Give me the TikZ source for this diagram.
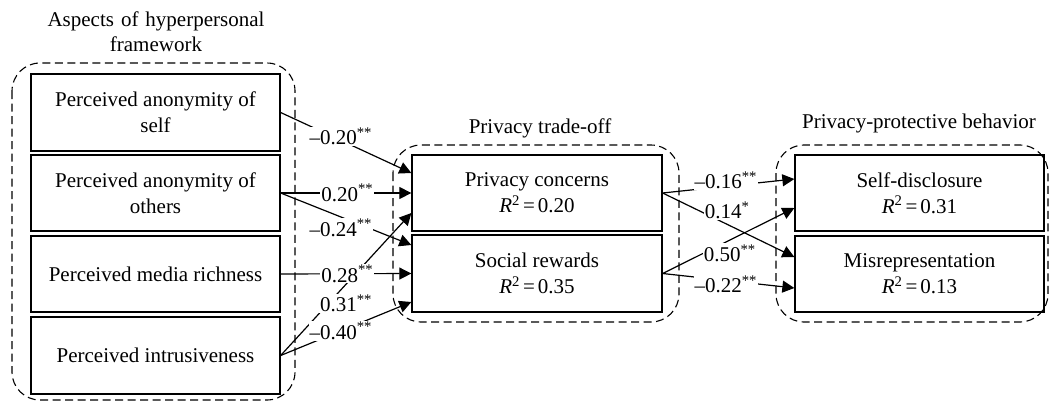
\documentclass[tikz,border=0pt]{standalone}
\usepackage{fontspec}
\setmainfont{Liberation Serif}
\usetikzlibrary{arrows.meta}
\begin{document}
\begin{tikzpicture}[x=1pt,y=-1pt,
 box/.style={draw, line width=1.3pt, minimum width=249pt, minimum height=76pt, inner sep=2pt, align=center, font=\fontsize{21}{26}\selectfont},
 grp/.style={draw, line width=1.1pt, dash pattern=on 8pt off 4.5pt, rounded corners=28pt},
 arr/.style={line width=1.2pt, -{Triangle[length=12pt,width=12pt]}},
 lab/.style={fill=white, inner sep=1pt, font=\fontsize{21}{24}\selectfont},
 ttl/.style={align=center, font=\fontsize{21}{25}\selectfont}]
\useasboundingbox (0,0) rectangle (1050,402);
% groups
\draw[grp] (12,63) rectangle (295,400);
\draw[grp] (393,145) rectangle (679,322);
\draw[grp] (776,145) rectangle (1048,322);
% titles
\node[ttl, text width=280pt] (t1) at (156,32) {Aspects of hyperpersonal\\framework};
\node[ttl] (t2) at (540,128) {Privacy trade-off};
\node[ttl] (t3) at (919,123) {Privacy-protective behavior};
% boxes
\node[box, minimum height=77pt] (b1) at (155.5,112.5) {Perceived anonymity of\\self};
\node[box] (b2) at (155.5,193) {Perceived anonymity of\\others};
\node[box] (b3) at (155.5,274) {Perceived media richness};
\node[box, minimum height=77pt] (b4) at (155.5,355.5) {Perceived intrusiveness};
\node[box, minimum width=250pt] (pc) at (537,193) {Privacy concerns\\\textit{R}\textsuperscript{2}\hspace{3pt}=\hspace{3pt}0.20};
\node[box, minimum width=250pt, minimum height=77pt] (sr) at (537,273.5) {Social rewards\\\textit{R}\textsuperscript{2}\hspace{3pt}=\hspace{3pt}0.35};
\node[box] (sd) at (919.5,193) {Self-disclosure\\\textit{R}\textsuperscript{2}\hspace{3pt}=\hspace{3pt}0.31};
\node[box] (mis) at (919.5,274) {Misrepresentation\\\textit{R}\textsuperscript{2}\hspace{3pt}=\hspace{3pt}0.13};
% arrows left
\draw[arr] (b1.east) -- ([yshift=20pt]pc.west) node[lab, pos=0.46, yshift=4pt] {–0.20\textsuperscript{**}};
\draw[arr] (b2.east) -- (pc.west) node[lab, pos=0.51] {0.20\textsuperscript{**}};
\draw[arr] (b2.east) -- ([yshift=28.5pt]sr.west) node[lab, pos=0.46, yshift=-11pt] {–0.24\textsuperscript{**}};
\draw[arr] (b4.east) -- ([yshift=-20pt]pc.west) node[lab, pos=0.5, yshift=-19pt] {0.31\textsuperscript{**}};
\draw[arr] (b3.east) -- (sr.west) node[lab, pos=0.51] {0.28\textsuperscript{**}};
\draw[arr] (b4.east) -- ([yshift=-28.5pt]sr.west) node[lab, pos=0.46] {–0.40\textsuperscript{**}};
% arrows right
\draw[arr] (pc.east) -- ([yshift=14pt]sd.west) node[lab, pos=0.48, yshift=6pt] {–0.16\textsuperscript{**}};
\draw[arr] (pc.east) -- ([yshift=17pt]mis.west) node[lab, pos=0.49, yshift=14pt] {0.14\textsuperscript{*}};
\draw[arr] (sr.east) -- ([yshift=-15pt]sd.west) node[lab, pos=0.51, yshift=-13pt] {0.50\textsuperscript{**}};
\draw[arr] (sr.east) -- ([yshift=-14pt]mis.west) node[lab, pos=0.48, yshift=-4pt] {–0.22\textsuperscript{**}};
\end{tikzpicture}
\end{document}
